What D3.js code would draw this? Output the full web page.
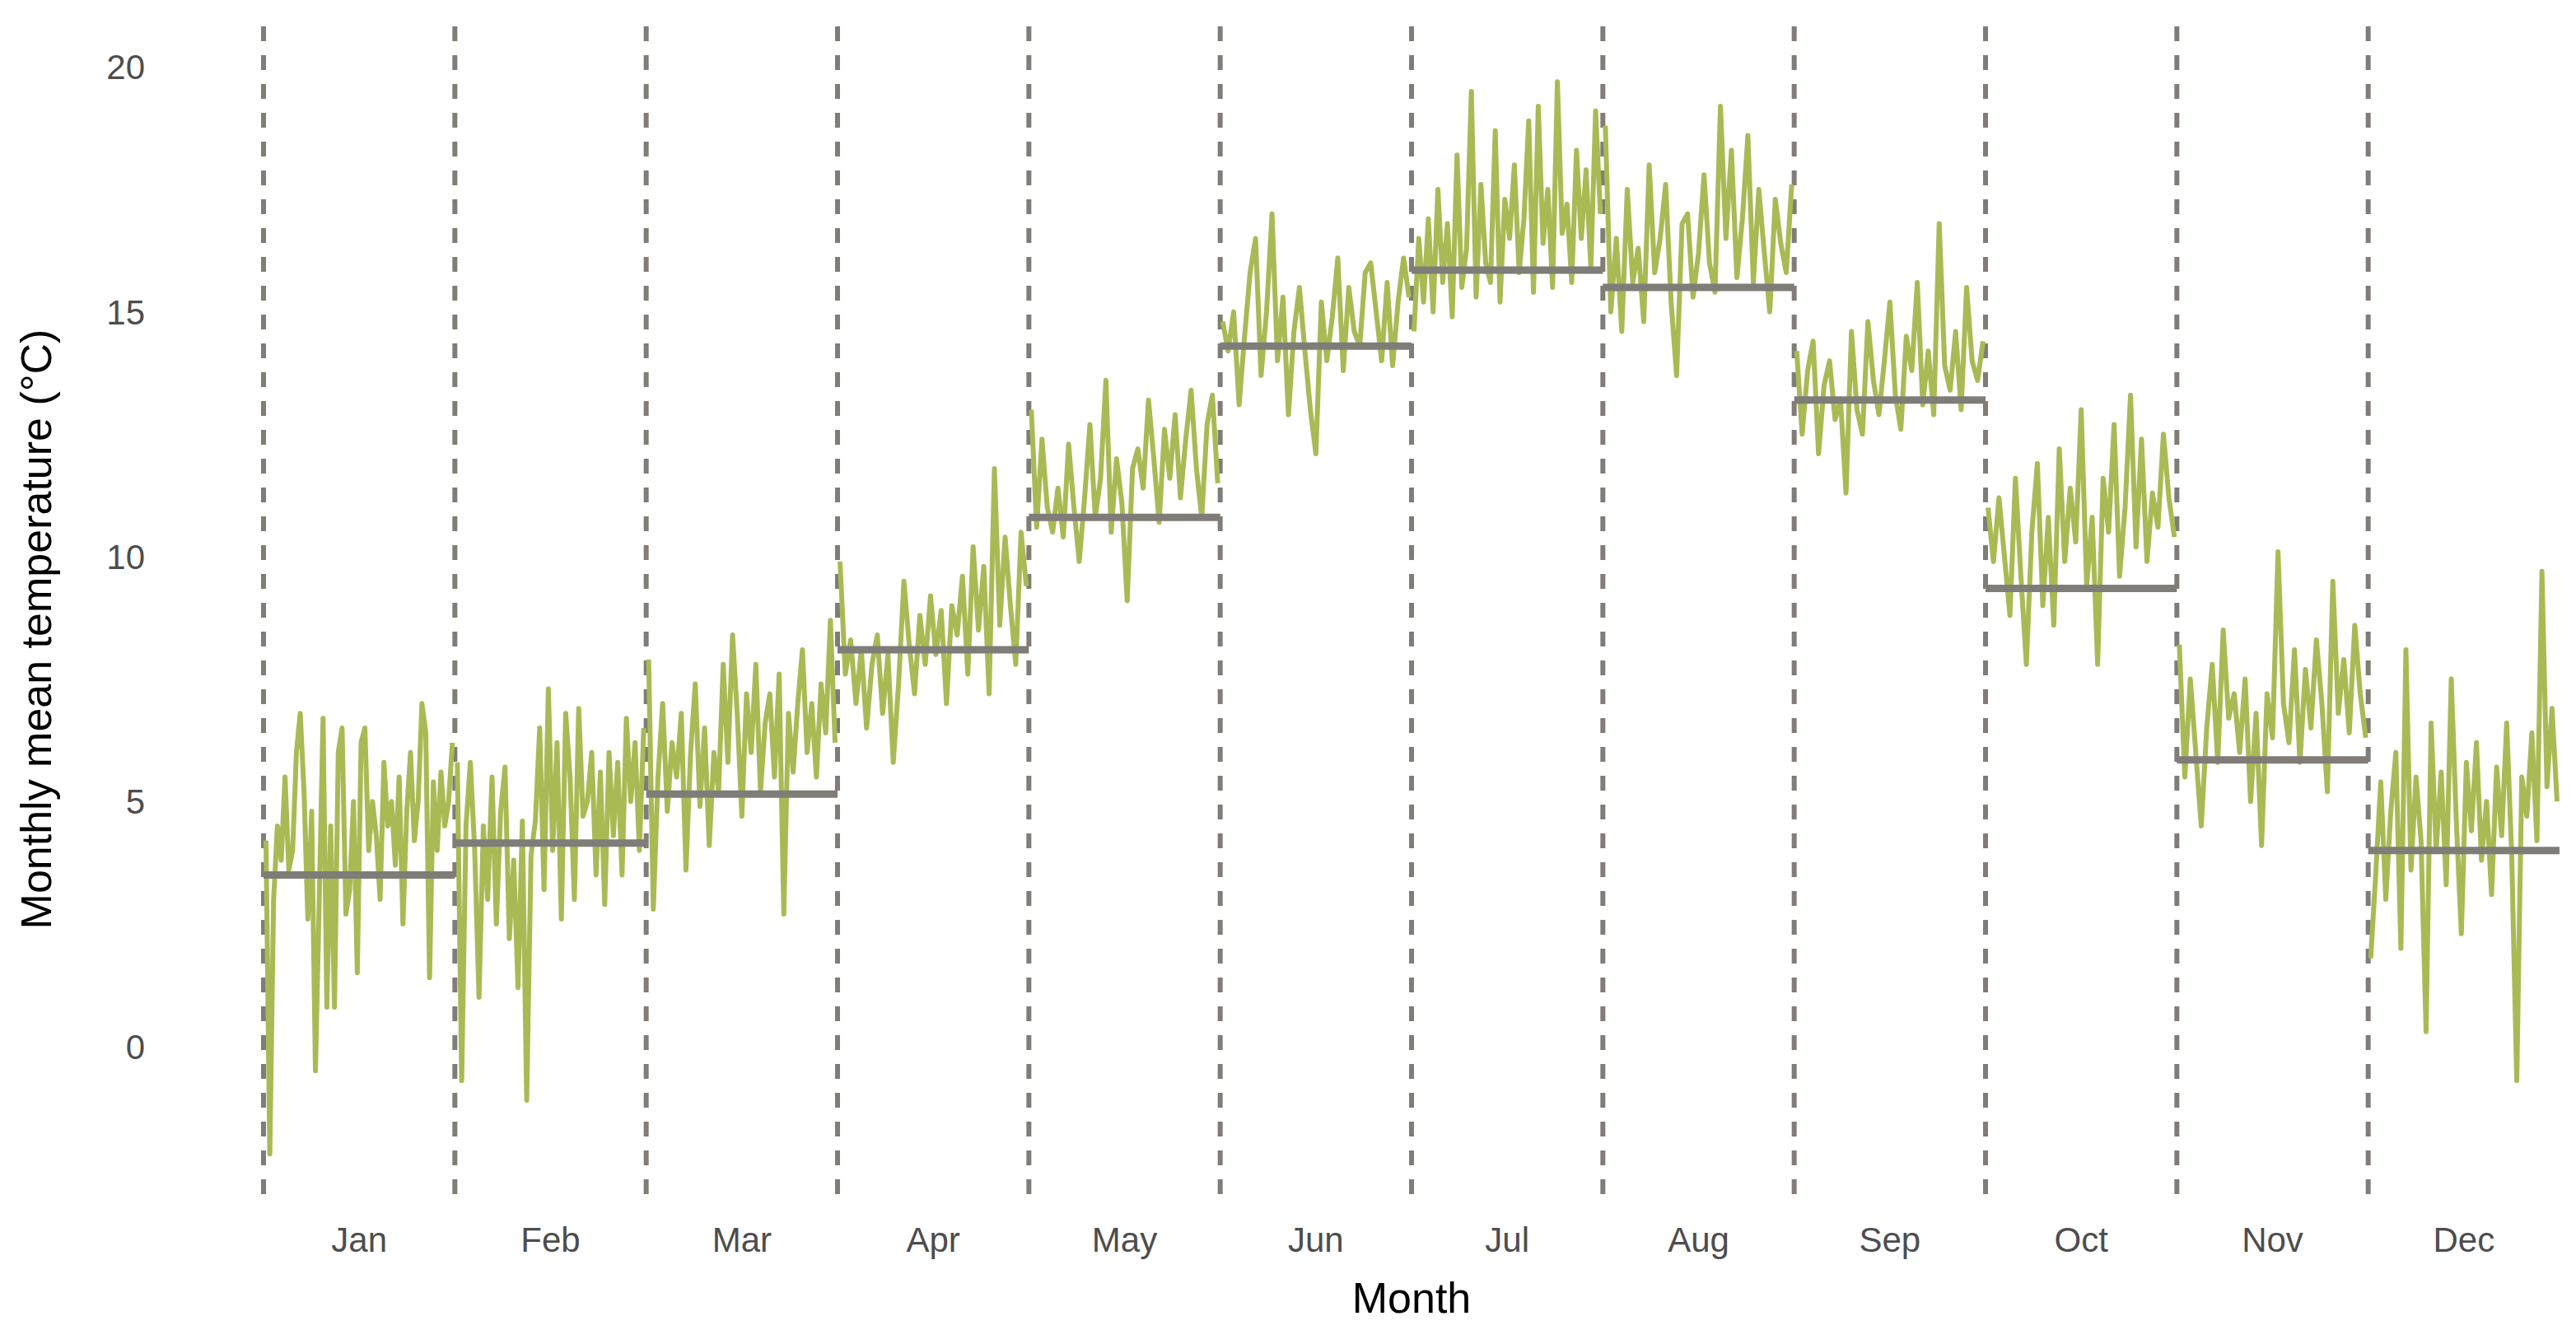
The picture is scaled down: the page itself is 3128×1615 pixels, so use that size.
<!DOCTYPE html>
<html>
<head>
<meta charset="utf-8">
<script src="https://cdn.jsdelivr.net/npm/d3@7"></script>
<style>
  body { margin: 0; background: #fff; }
  text { font-family: "Liberation Sans", Arial, sans-serif; }
</style>
</head>
<body>
<svg id="chart" width="3128" height="1615"></svg>
<script>
// month names and monthly means
var months = ["Jan","Feb","Mar","Apr","May","Jun","Jul","Aug","Sep","Oct","Nov","Dec"];
var monthMeans = [3.5, 4.15, 5.15, 8.1, 10.8, 14.3, 15.85, 15.5, 13.2, 9.35, 5.85, 4.0];
var yTicks = [0, 5, 10, 15, 20];

// yearly values for each month
var jan = [4.2,-2.2,3.0,4.5,3.8,5.5,3.6,4.0,6.0,6.8,5.2,2.6,4.8,-0.5,3.0,6.7,0.8,4.5,0.8,6.0,6.5,2.7,3.2,5.0,1.5,6.2,6.5,4.0,5.0,4.3,3.0,5.8,4.5,5.0,3.7,5.5,2.5,4.8,6.0,4.2,5.0,7.0,6.4,1.4,5.4,4.0,5.6,4.5,5.0,6.2];
var feb = [5.8,-0.7,4.5,5.8,4.0,1.0,4.5,3.0,5.5,2.5,4.8,5.7,2.2,3.8,1.2,4.6,-1.1,3.9,4.6,6.5,3.2,7.3,4.0,6.2,2.6,6.8,5.5,3.0,6.9,4.7,5.0,6.0,3.5,5.6,2.9,6.0,4.3,5.8,3.5,6.7,5.0,6.2,4.0,6.5];
var mar = [7.9,2.8,5.5,7.0,4.8,6.2,5.5,6.8,3.6,6.0,7.4,4.9,6.5,4.1,6.0,5.2,7.8,5.8,8.4,6.8,4.7,7.2,6.0,7.8,5.2,6.6,7.2,5.5,7.6,2.7,6.8,5.6,7.0,8.1,6.0,7.0,5.5,7.4,6.4,8.7,6.2];
var apr = [9.9,7.6,8.3,7.0,8.1,6.5,7.8,8.4,6.8,8.0,5.8,7.4,9.5,8.2,7.2,8.8,7.8,9.2,8.0,8.9,7.0,9.0,8.4,9.6,7.6,10.2,8.5,9.8,7.2,11.8,8.6,10.4,9.0,7.8,10.5,9.4];
var may = [13.0,10.6,12.4,11.0,10.5,11.4,10.4,12.3,11.0,9.9,11.2,12.7,10.8,11.6,13.6,10.5,12.0,11.1,9.1,11.8,12.2,11.4,13.2,12.0,10.7,12.6,11.6,12.9,11.2,12.4,13.4,11.8,10.8,12.7,13.3,11.5];
var jun = [14.8,14.2,15.0,13.1,14.5,15.8,16.5,13.7,15.0,17.0,14.0,15.3,12.9,14.6,15.5,14.2,13.0,12.1,15.2,14.0,14.9,16.1,13.8,15.5,14.6,14.3,15.8,16.0,15.0,14.0,15.6,13.9,15.2,16.1,15.3];
var jul = [14.6,16.5,15.2,16.9,15.0,17.5,15.6,16.8,14.9,18.2,15.5,16.3,19.5,15.3,17.6,16.0,15.6,18.7,15.2,17.3,16.5,18.0,15.8,16.9,18.9,15.4,19.2,16.4,17.5,15.5,19.7,16.6,17.2,15.6,18.3,16.5,17.9,15.9,19.1,17.0];
var aug = [18.8,15.0,16.5,14.6,17.5,15.6,16.3,14.8,18.0,15.8,16.5,17.6,15.2,13.7,16.8,17.0,15.3,16.2,17.8,16.0,15.4,19.2,16.5,18.3,15.7,16.9,18.6,15.6,17.5,16.2,15.0,17.3,16.4,15.8,17.6];
var sep = [14.2,12.5,13.8,14.4,12.1,13.5,14.0,12.8,13.2,11.3,14.6,13.0,12.5,14.8,13.6,12.9,14.0,15.2,13.3,12.6,14.5,13.8,15.6,13.1,14.2,12.9,16.8,13.9,13.4,14.6,13.0,15.5,14.0,13.6,14.4];
var oct = [11.0,9.9,11.2,10.0,8.8,11.6,9.6,7.8,10.5,11.9,9.0,10.8,8.6,12.2,9.9,11.4,10.3,13.0,9.4,10.8,7.8,11.6,10.5,12.7,9.6,11.0,13.3,10.2,12.4,9.9,11.3,10.6,12.5,11.2,10.4];
var nov = [8.2,5.5,7.5,6.0,4.5,6.5,7.8,5.8,8.5,6.7,7.2,6.0,7.5,5.0,6.8,4.1,7.2,6.3,10.1,7.0,6.2,8.1,5.8,7.7,6.5,8.3,7.0,5.2,9.5,6.8,7.9,6.4,8.6,7.2,6.3];
var dec = [1.8,3.5,5.4,3.0,4.8,6.0,2.0,8.1,3.6,5.5,4.2,0.3,6.6,4.0,5.6,3.3,7.5,4.6,2.3,5.8,4.4,6.2,3.8,5.0,3.1,5.7,4.3,6.6,3.9,-0.7,5.5,4.7,6.4,4.2,9.7,5.3,6.9,5.0];
var monthValues = [jan, feb, mar, apr, may, jun, jul, aug, sep, oct, nov, dec];

var svg = d3.select("#chart");
var plotLeft = 320, plotRight = 3108, plotTop = 32, plotBottom = 1456;

var x = d3.scaleBand().domain(months).range([plotLeft, plotRight]).paddingInner(0).paddingOuter(0);
var y = d3.scaleLinear().domain([-3.12, 20.83]).range([plotBottom, plotTop]);

var green = "#A9BA55", grey = "#807C77", textCol = "#4D4D4D";

// y tick labels
svg.append("g").selectAll("text")
	.data(yTicks)
	.enter().append("text")
	.attr("x", 176)
	.attr("y", function(d) { return y(d); })
	.attr("dy", "0.36em")
	.attr("text-anchor", "end")
	.attr("font-size", 42)
	.attr("fill", textCol)
	.text(function(d) { return d; });

// dashed separators
svg.append("g").selectAll("line")
	.data(months)
	.enter().append("line")
	.attr("x1", function(d) { return x(d); })
	.attr("x2", function(d) { return x(d); })
	.attr("y1", plotTop)
	.attr("y2", plotBottom)
	.attr("stroke", grey)
	.attr("stroke-width", 6)
	.attr("stroke-dasharray", "18,17");

// month lines
var len = months.length;
for (var ii = 0; ii < len; ii++) {
	var vals = monthValues[ii];
	var x0 = x(months[ii]);
	var xi = d3.scaleLinear().domain([0, vals.length - 1]).range([x0 + 3, x0 + x.bandwidth() - 3]);
	var line = d3.line()
		.x(function(d, i) { return xi(i); })
		.y(function(d) { return y(d); });
	svg.append("path")
		.datum(vals)
		.attr("d", line)
		.attr("fill", "none")
		.attr("stroke", green)
		.attr("stroke-width", 6)
		.attr("stroke-linejoin", "round");
}

// mean bars
svg.append("g").selectAll("line")
	.data(monthMeans)
	.enter().append("line")
	.attr("x1", function(d, i) { return x(months[i]); })
	.attr("x2", function(d, i) { return x(months[i]) + x.bandwidth(); })
	.attr("y1", function(d) { return y(d); })
	.attr("y2", function(d) { return y(d); })
	.attr("stroke", grey)
	.attr("stroke-width", 9);

// month labels
svg.append("g").selectAll("text")
	.data(months)
	.enter().append("text")
	.attr("x", function(d) { return x(d) + x.bandwidth() / 2; })
	.attr("y", 1520)
	.attr("text-anchor", "middle")
	.attr("font-size", 42)
	.attr("fill", textCol)
	.text(function(d) { return d; });

svg.append("text")
	.attr("x", (plotLeft + plotRight) / 2)
	.attr("y", 1594)
	.attr("text-anchor", "middle")
	.attr("font-size", 52)
	.attr("fill", "#000")
	.text("Month");

svg.append("text")
	.attr("transform", "translate(62," + ((plotTop + plotBottom) / 2 + 20) + ") rotate(-90)")
	.attr("text-anchor", "middle")
	.attr("font-size", 52)
	.attr("fill", "#000")
	.text("Monthly mean temperature (°C)");
</script>
</body>
</html>
